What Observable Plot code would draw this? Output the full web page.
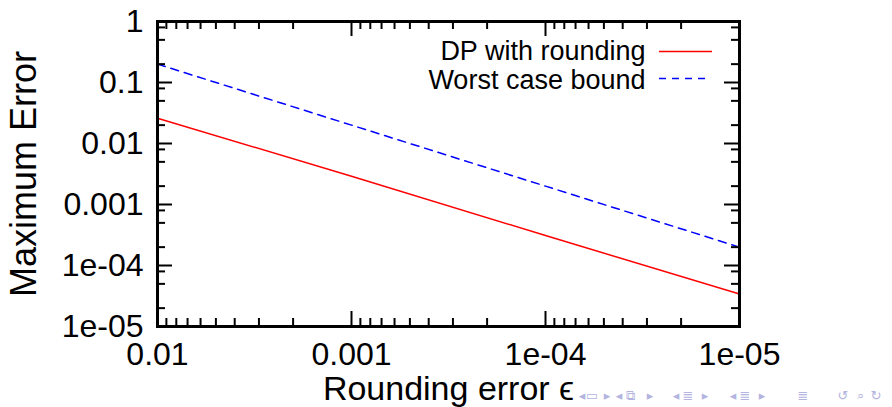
<!DOCTYPE html>
<html><head><meta charset="utf-8">
<script src="https://cdn.jsdelivr.net/npm/d3@7"></script>
<script src="https://cdn.jsdelivr.net/npm/@observablehq/plot@0.6"></script>
<style>body{margin:0;background:#fff} svg{display:block}</style>
</head><body><div id="chart"></div>
<script>
// ---- data ----
const eps = [1e-2, 1e-3, 1e-4, 1e-5];
const dpRounding = [0.026, 0.0029, 3.1e-4, 3.4e-5];
const worstBound = [0.2, 0.02, 0.002, 2e-4];
const xMajor = [1e-2, 1e-3, 1e-4, 1e-5];
const xTickLabels = ["0.01", "0.001", "1e-04", "1e-05"];
const yMajor = [1, 0.1, 0.01, 0.001, 1e-4, 1e-5];
const yTickLabels = ["1", "0.1", "0.01", "0.001", "1e-04", "1e-05"];
const xMinorMult = [2, 3, 4, 5, 6, 7, 8, 9];
const yMinorMult = [2, 5, 8];
const seriesNames = ["DP with rounding", "Worst case bound"];
const xTitle = "Rounding error \u03F5";
const yTitle = "Maximum Error";

// ---- derived tables ----
const table = eps.map((e, i) => ({eps: e, dp: dpRounding[i], bound: worstBound[i]}));
const xMinor = [1e-5, 1e-4, 1e-3].flatMap(d => xMinorMult.map(m => m * d));
const yMinor = [1e-5, 1e-4, 1e-3, 1e-2, 1e-1].flatMap(d => yMinorMult.map(m => m * d));
const xLab = new Map(xMajor.map((d, i) => [d, xTickLabels[i]]));
const yLab = new Map(yMajor.map((d, i) => [d, yTickLabels[i]]));

const W = 892, H = 407, mL = 157, mR = 153, mT = 21, mB = 81;
const fw = W - mL - mR, fh = H - mT - mB;
const FONT = "Liberation Sans, Arial, sans-serif";
const MAJ = 15, MIN = 8;

const tickStyle = {stroke: "black", strokeWidth: 2};

const chart = Plot.plot({
  width: W, height: H,
  marginLeft: mL, marginRight: mR, marginTop: mT, marginBottom: mB,
  style: {fontFamily: FONT, background: "white", color: "black"},
  x: {type: "log", domain: [1e-2, 1e-5]},
  y: {type: "log", domain: [1e-5, 1]},
  marks: [
    Plot.line(table, {x: "eps", y: "dp", stroke: "#ff0000", strokeWidth: 1.5}),
    Plot.line(table, {x: "eps", y: "bound", stroke: "#0000ff", strokeWidth: 1.5, strokeDasharray: "8,6"}),
    // inward ticks, bottom
    Plot.tickX(xMajor, {x: d => d, insetTop: fh - MAJ, ...tickStyle}),
    Plot.tickX(xMinor, {x: d => d, insetTop: fh - MIN, ...tickStyle}),
    // top
    Plot.tickX(xMajor, {x: d => d, insetBottom: fh - MAJ, ...tickStyle}),
    Plot.tickX(xMinor, {x: d => d, insetBottom: fh - MIN, ...tickStyle}),
    // left
    Plot.tickY(yMajor, {y: d => d, insetRight: fw - MAJ, ...tickStyle}),
    Plot.tickY(yMinor, {y: d => d, insetRight: fw - MIN, ...tickStyle}),
    // right
    Plot.tickY(yMajor, {y: d => d, insetLeft: fw - MAJ, ...tickStyle}),
    Plot.tickY(yMinor, {y: d => d, insetLeft: fw - MIN, ...tickStyle}),
    Plot.frame({stroke: "black", strokeWidth: 3}),
    // tick labels
    Plot.axisX(xMajor, {anchor: "bottom", tickSize: 0, tickPadding: 16, tickFormat: d => xLab.get(d), fontSize: 32, label: null}),
    Plot.axisY(yMajor, {anchor: "left", tickSize: 0, tickPadding: 14, tickFormat: d => yLab.get(d), fontSize: 32, label: null}),
    // titles
    Plot.text([xTitle], {frameAnchor: "bottom", textAnchor: "middle", dy: 63, fontSize: 34, lineAnchor: "middle", fill: "black"}),
    Plot.text([yTitle], {frameAnchor: "left", textAnchor: "middle", dx: -133, rotate: -90, fontSize: 36, lineAnchor: "middle", fill: "black"}),
    // legend text
    Plot.text([seriesNames[0]], {frameAnchor: "top-right", textAnchor: "end", dx: -94, dy: 29.5, fontSize: 27, lineAnchor: "middle", fill: "black"}),
    Plot.text([seriesNames[1]], {frameAnchor: "top-right", textAnchor: "end", dx: -94, dy: 58.5, fontSize: 27, lineAnchor: "middle", fill: "black"})
  ]
});
document.getElementById("chart").appendChild(chart);

// legend samples
const svg = d3.select(chart);
svg.append("line").attr("x1", 659).attr("x2", 712).attr("y1", 51.5).attr("y2", 51.5)
  .attr("stroke", "#ff0000").attr("stroke-width", 1.5);
svg.append("line").attr("x1", 659).attr("x2", 705).attr("y1", 78.5).attr("y2", 78.5)
  .attr("stroke", "#0000ff").attr("stroke-width", 1.5).attr("stroke-dasharray", "7,6");

// beamer navigation symbols (decorative)
const nav = [
  [582, "\u25C2"], [592, "\u25AD"], [607, "\u25B8"],
  [619, "\u25C2"], [630, "\u29C9"], [650, "\u25B8"],
  [676, "\u25C2"], [688, "\u2263"], [705, "\u25B8"],
  [733, "\u25C2"], [745, "\u2263"], [762, "\u25B8"],
  [803, "\u2263"],
  [843, "\u21BA"], [860, "\u2315"], [876, "\u21BB"]
];
svg.append("g").attr("fill", "#b4b4e0").attr("font-family", "DejaVu Sans, sans-serif").attr("font-size", 13)
  .selectAll("text").data(nav).join("text")
  .attr("x", d => d[0]).attr("y", 400).text(d => d[1]);
</script>
</body></html>
